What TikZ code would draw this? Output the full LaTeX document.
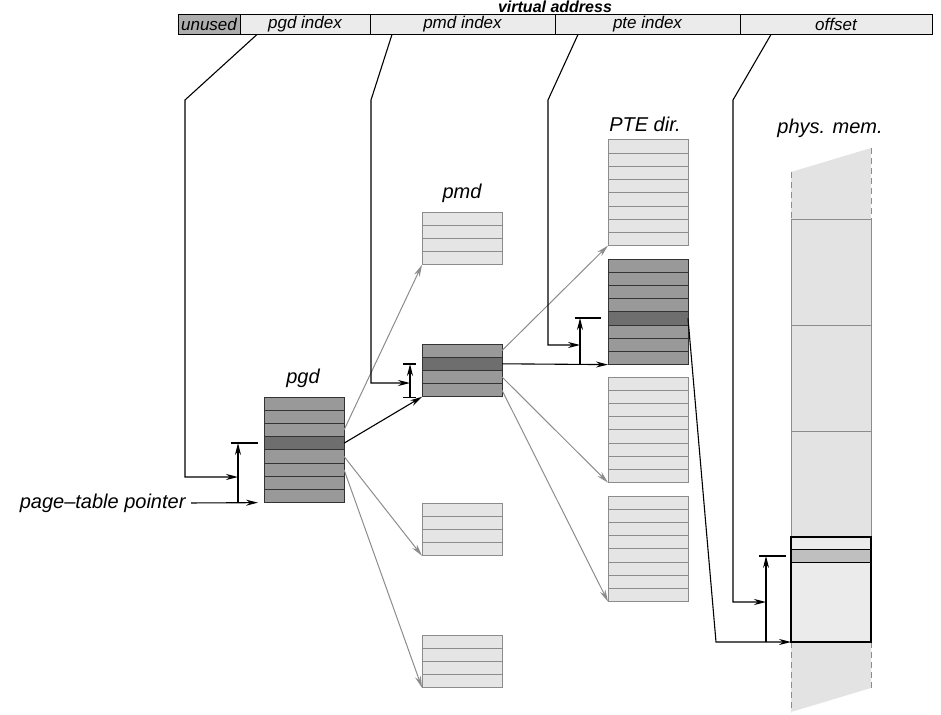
\documentclass[tikz,border=0pt]{standalone}
\usepackage{fontspec}
\setmainfont{Liberation Sans}
\usetikzlibrary{arrows.meta,calc,positioning}

\definecolor{fieldgray}{gray}{0.92}
\definecolor{unusedgray}{gray}{0.68}
\definecolor{entrylight}{gray}{0.90}
\definecolor{entrymid}{gray}{0.60}
\definecolor{entrydark}{gray}{0.43}
\definecolor{linegray}{gray}{0.55}
\definecolor{memgray}{gray}{0.89}
\definecolor{framegray}{gray}{0.92}
\definecolor{bandgray}{gray}{0.75}

\newcommand{\lblfont}{\fontsize{20}{24}\selectfont\itshape}
\newcommand{\fieldfont}{\fontsize{17}{20}\selectfont\itshape}

% #1 name, #2 left, #3 top, #4 rows, #5 fill, #6 rule, #7 dark row (0 = none)
\newcommand{\pagetable}[7]{%
  \fill[#5] (#2,#3) rectangle ++(80,#4*13.2);
  \ifnum#7>0\relax \fill[entrydark] (#2,#3+#7*13.2-13.2) rectangle ++(80,13.2); \fi
  \foreach \r in {1,...,#4}{
    \draw[#6] (#2,#3+\r*13.2-13.2) rectangle ++(80,13.2);
    \coordinate (#1-\r) at (#2+80,#3+\r*13.2-6.6);
  }
  \coordinate (#1-sw) at (#2,#3+#4*13.2);
}

\begin{document}
\begin{tikzpicture}[x=1pt,y=-1pt,line width=1pt,
    lbl/.style={font=\lblfont,inner sep=0pt},
    field/.style={draw,fill=fieldgray,minimum height=20,inner sep=0pt,outer sep=0pt,font=\fieldfont},
    link/.style={line width=1.1pt,-{Stealth[length=12pt,width=6pt]}},
    glink/.style={draw=linegray,-{Stealth[length=12pt,width=6pt]}},
    mtick/.style={line width=1.1pt}]
    \useasboundingbox (0,0) rectangle (941,714);

    % virtual address
    \node[inner sep=0pt,font=\fontsize{16}{19}\selectfont\bfseries\itshape,anchor=base] (vaddr) at (555,13) {virtual address};
    \node[field,fill=unusedgray,minimum width=62] (unused) at (209,24.5) {unused};
    \node[field,minimum width=130,right=0pt of unused] (pgdidx) {pgd index};
    \node[field,minimum width=185,right=0pt of pgdidx] (pmdidx) {pmd index};
    \node[field,minimum width=185,right=0pt of pmdidx] (pteidx) {pte index};
    \node[field,minimum width=192,right=0pt of pteidx] (offidx) {offset};

    % tables
    \pagetable{pgd}{264}{397}{8}{entrymid}{black!80}{4}
    \pagetable{pmdA}{422}{212}{4}{entrylight}{linegray}{0}
    \pagetable{pmd}{422}{344}{4}{entrymid}{black!80}{2}
    \pagetable{pmdC}{422}{503}{4}{entrylight}{linegray}{0}
    \pagetable{pmdD}{422}{635}{4}{entrylight}{linegray}{0}
    \pagetable{pteA}{608}{140}{8}{entrylight}{linegray}{0}
    \pagetable{pte}{608}{259}{8}{entrymid}{black!80}{5}
    \pagetable{pteC}{608}{377}{8}{entrylight}{linegray}{0}
    \pagetable{pteD}{608}{496}{8}{entrylight}{linegray}{0}

    % physical memory
    \fill[memgray] (791,172) -- (871,148) -- (871,688) -- (791,712) -- cycle;
    \draw[linegray,dash pattern=on 6pt off 4pt] (791,172) -- (791,219) (871,148) -- (871,219)
        (791,642) -- (791,712) (871,642) -- (871,688);
    \draw[linegray] (791,219) -- (791,537) (871,219) -- (871,537);
    \foreach \y in {219,325,431}
        \draw[linegray] (791,\y) -- (871,\y);
    \fill[framegray] (791,537) rectangle (871,642);
    \fill[bandgray] (791,549) rectangle (871,562);
    \draw (791,549) -- (871,549) (791,562) -- (871,562);
    \draw[line width=1.1pt] (791,537) rectangle (871,642);
    \coordinate (framesw) at (791,642);

    % labels
    \node[lbl] (pgdlbl) at (303,378) {pgd};
    \node[lbl] (pmdlbl) at (462,193) {pmd};
    \node[lbl] (ptelbl) at (645,124) {PTE dir.};
    \node[lbl] (memlbl) at (830,128) {phys. mem.};
    \node[lbl,anchor=east] (ptp) at (186,503) {page--table pointer};

    % offsets
    \coordinate (pgdtop) at (238,443);
    \coordinate (pgdbot) at (238,503);
    \coordinate (pgdin) at (238,477);
    \coordinate (pmdtop) at (410,364);
    \coordinate (pmdbot) at (410,397.6);
    \coordinate (pmdin) at (410,383);
    \coordinate (ptetop) at (580,318);
    \coordinate (ptebot) at (580,364.6);
    \coordinate (ptein) at (580,345);
    \coordinate (memtop) at (766,556);
    \coordinate (membot) at (766,642);
    \coordinate (memin) at (766,602);

    % pgd level
    \draw[link,shorten <=5pt,shorten >=6pt] (ptp.east) -- (pgd-sw);
    \draw[link] (pgdbot) -- (pgdtop);
    \draw[mtick] ([xshift=-7pt]pgdtop) -- ([xshift=20pt]pgdtop);
    \draw[link] ([xshift=17pt]pgdidx.south west) -- (185,100) |- (pgdin);
    \draw[glink] (pgd-3) -- (pmdA-sw);
    \draw[link] (pgd-4) -- (pmd-sw);
    \draw[glink] (pgd-5) -- (pmdC-sw);
    \draw[glink] (pgd-6) -- (pmdD-sw);

    % pmd level
    \draw[link] (pmdbot) -- (pmdtop);
    \draw[mtick] ([xshift=-7pt]pmdtop) -- ([xshift=6pt]pmdtop);
    \draw[mtick] ([xshift=-7pt]pmdbot) -- ([xshift=6pt]pmdbot);
    \draw[link] ([xshift=22pt]pmdidx.south west) -- (371,100) |- (pmdin);
    \draw[glink] (pmd-1) -- (pteA-sw);
    \draw[link] (pmd-2) -- (pte-sw);
    \draw[glink] (pmd-3) -- (pteC-sw);
    \draw[glink] (pmd-4) -- (pteD-sw);

    % pte level
    \draw[link] (ptebot) -- (ptetop);
    \draw[mtick] ([xshift=-5pt]ptetop) -- ([xshift=21pt]ptetop);
    \draw[link] ([xshift=23pt]pteidx.south west) -- (548,100) |- (ptein);
    \draw[link] (pte-5) -- (716,642) -- (framesw);

    % page offset
    \draw[link] (membot) -- (memtop);
    \draw[mtick] ([xshift=-7pt]memtop) -- ([xshift=20pt]memtop);
    \draw[link] ([xshift=31pt]offidx.south west) -- (733,100) |- (memin);
\end{tikzpicture}
\end{document}
